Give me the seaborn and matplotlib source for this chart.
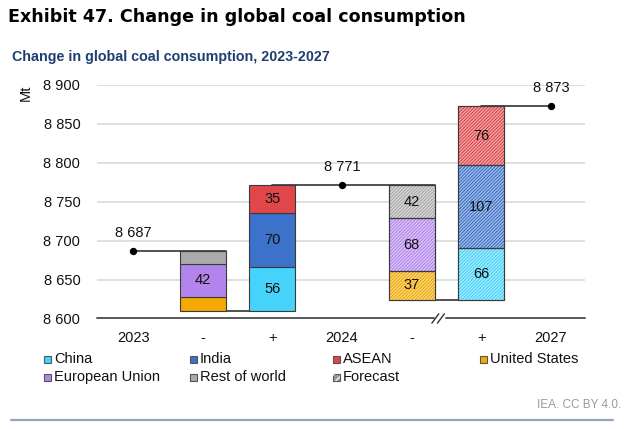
import matplotlib
matplotlib.use("Agg")
import matplotlib.pyplot as plt
from matplotlib.patches import Rectangle
from matplotlib.lines import Line2D
import seaborn as sns
import numpy as np

# ---------------- data ----------------
categories = ["2023", "-", "+", "2024", "-", "+", "2027"]
series = ["China", "India", "ASEAN", "United States", "European Union", "Rest of world"]
total_2023 = 8687
total_2024 = 8771
total_2027 = 8873
# decreases (stacked bottom -> top): United States, European Union, Rest of world
dec_2024 = [18, 42, 17]
dec_2027 = [37, 68, 42]
# increases (stacked bottom -> top): China, India, ASEAN
inc_2024 = [56, 70, 35]
inc_2027 = [66, 107, 76]
y_ticks = [8600, 8650, 8700, 8750, 8800, 8850, 8900]

colors = {
    "China": "#45d3fb",
    "India": "#3c72c9",
    "ASEAN": "#e0464a",
    "United States": "#f2a900",
    "European Union": "#b385ec",
    "Rest of world": "#aaaaaa",
}

sns.set_theme(style="white")
plt.rcParams["font.family"] = ["Liberation Sans", "DejaVu Sans"]
plt.rcParams["hatch.linewidth"] = 0.8

fig = plt.figure(figsize=(6.24, 4.29), dpi=100)
ax = fig.add_axes([97 / 624, 1 - 318.5 / 429, (585 - 97) / 624, (318.5 - 85) / 429])

edge = "#3a3a3a"
bar_w = 0.66


def draw_stack(xpos, bottom, values, names, forecast):
    cur = bottom
    for v, n in zip(values, names):
        ax.bar(xpos, v, bottom=cur, width=bar_w, color=colors[n], edgecolor=edge,
               linewidth=0.8, zorder=2)
        if forecast:
            ax.bar(xpos, v, bottom=cur, width=bar_w, color="none", edgecolor="white",
                   hatch="/" * 10, linewidth=0, alpha=0.6, zorder=2.1)
            ax.bar(xpos, v, bottom=cur, width=bar_w, color="none", edgecolor=edge,
                   linewidth=0.8, zorder=2.2)
        if v >= 30:
            ax.text(xpos, cur + v / 2, f"{v}", ha="center", va="center",
                    fontsize=10.5, color="#111111", zorder=3)
        cur += v
    return cur


dec_names = ["United States", "European Union", "Rest of world"]
inc_names = ["China", "India", "ASEAN"]

# connectors
line_kw = dict(color="#333333", lw=1.2, zorder=1)
low_2024 = total_2023 - sum(dec_2024)
low_2027 = total_2024 - sum(dec_2027)
ax.plot([0, 1 + bar_w / 2], [total_2023, total_2023], **line_kw)
ax.plot([1, 2], [low_2024, low_2024], **line_kw)
ax.plot([2, 4 + bar_w / 2], [total_2024, total_2024], **line_kw)
ax.plot([4, 5], [low_2027, low_2027], **line_kw)
ax.plot([5, 6], [total_2027, total_2027], **line_kw)

draw_stack(1, low_2024, dec_2024, dec_names, False)
draw_stack(2, low_2024, inc_2024, inc_names, False)
draw_stack(4, low_2027, dec_2027, dec_names, True)
draw_stack(5, low_2027, inc_2027, inc_names, True)

# totals
tot_x = [0, 3, 6]
tot_y = [total_2023, total_2024, total_2027]
sns.scatterplot(x=tot_x, y=tot_y, color="black", s=28, zorder=4, ax=ax,
                edgecolor="black", linewidth=0, legend=False)
for xv, yv in zip(tot_x, tot_y):
    ax.annotate(f"{yv:,}".replace(",", " "), (xv, yv), xytext=(0, 8),
                textcoords="offset points", ha="center", va="bottom",
                fontsize=10.5, color="#111111", annotation_clip=False)

ax.set_xlim(-0.52, 6.49)
ax.set_ylim(8600, 8900)
ax.set_yticks(y_ticks)
ax.set_yticklabels([f"{t:,}".replace(",", " ") for t in y_ticks], fontsize=10.5,
                   color="#111111")
ax.set_xticks(range(len(categories)))
ax.set_xticklabels(categories, fontsize=10.5, color="#111111")
ax.tick_params(axis="y", length=0, pad=12)
ax.tick_params(axis="x", length=0, pad=9)
for s in ax.spines.values():
    s.set_visible(False)
for t in y_ticks[1:]:
    ax.axhline(t, color="#d9d9d9", lw=1.2, zorder=0)

# bottom axis with break
brk = 4.38
ax.plot([-0.52, brk - 0.06], [8600, 8600], color="#595959", lw=1.4, clip_on=False, zorder=1)
ax.plot([brk + 0.11, 6.49], [8600, 8600], color="#595959", lw=1.4, clip_on=False, zorder=1)
for dx in (-0.04, 0.04):
    ax.plot([brk + dx - 0.05, brk + dx + 0.05], [8600 - 6, 8600 + 6], color="#333333",
            lw=1.0, clip_on=False, zorder=1)

ax.text(-0.145, 1.0, "Mt", transform=ax.transAxes, rotation=90, ha="center", va="top",
        fontsize=10.5, color="#111111")

# titles
fig.text(8 / 624, 1 - 17 / 429, "Exhibit 47. Change in global coal consumption",
         fontsize=12.6, fontweight="bold", family=["DejaVu Sans"], ha="left", va="center",
         color="black")
fig.text(12 / 624, 1 - 57 / 429, "Change in global coal consumption, 2023-2027",
         fontsize=10.3, fontweight="bold", ha="left", va="center", color="#1f3f73")

# legend (manual layout)
leg_rows = [["China", "India", "ASEAN", "United States"],
            ["European Union", "Rest of world", "Forecast"]]
col_x = [44, 190, 333, 480]
row_y = [359, 377]
for r, row in enumerate(leg_rows):
    for c, name in enumerate(row):
        x0 = col_x[c] / 624
        y0 = 1 - (row_y[r] + 4) / 429
        w = 7 / 624
        h = 7 / 429
        if name == "Forecast":
            fig.patches.append(Rectangle((x0, y0), w, h, transform=fig.transFigure,
                                         facecolor="#9a9a9a", edgecolor="#555555", lw=0.8))
            fig.patches.append(Rectangle((x0, y0), w, h, transform=fig.transFigure,
                                         facecolor="none", edgecolor="white", hatch="////",
                                         lw=0))
        else:
            fig.patches.append(Rectangle((x0, y0), w, h, transform=fig.transFigure,
                                         facecolor=colors[name], edgecolor="#555555", lw=0.8))
        fig.text((col_x[c] + 10) / 624, 1 - row_y[r] / 429, name, fontsize=10.5,
                 ha="left", va="center", color="#111111")

fig.text(537 / 624, 1 - 405 / 429, "IEA. CC BY 4.0.", fontsize=8.5, color="#9a9a9a",
         ha="left", va="center")
fig.lines.append(Line2D([11 / 624, 613 / 624], [1 - 420 / 429, 1 - 420 / 429],
                        transform=fig.transFigure, color="#8ea5c4", lw=1.6))

fig.savefig("out.png", dpi=100)
